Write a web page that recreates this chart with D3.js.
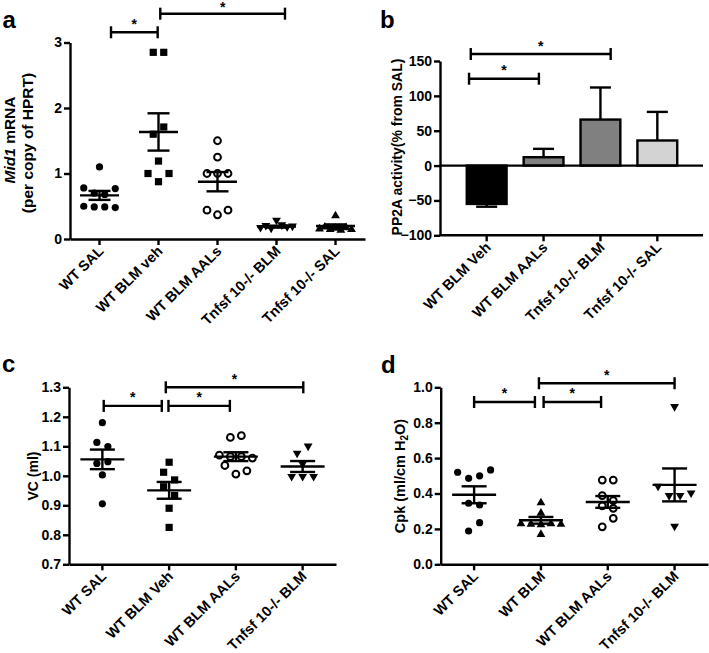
<!DOCTYPE html>
<html><head><meta charset="utf-8">
<script src="https://cdn.jsdelivr.net/npm/d3@7"></script>
<style>
body{margin:0;background:#fff}
svg{display:block}
text{font-family:"Liberation Sans",Arial,sans-serif;font-weight:bold;fill:#000}
</style>
</head><body>
<svg id="chart" width="709" height="653"></svg>
<script>
// ---------- Panel a : Mid1 mRNA ----------
const catsA = ["WT SAL", "WT BLM veh", "WT BLM AALs", "Tnfsf 10-/- BLM", "Tnfsf 10-/- SAL"];
const aWtSal   = [1.10, 0.78, 0.70, 0.68, 0.77, 0.50, 0.49, 0.49, 0.48];
const aBlmVeh  = [2.85, 2.85, 1.60, 1.71, 1.19, 1.00, 0.875, 1.00];
const aAals    = [1.50, 1.25, 1.00, 1.00, 1.00, 0.44, 0.37, 0.44];
const aTnfBlm  = [0.16, 0.19, 0.15, 0.27, 0.20, 0.17, 0.18];
const aTnfSal  = [0.37, 0.17, 0.20, 0.16, 0.18, 0.15, 0.19, 0.16];
const aTicks   = [0, 1, 2, 3];
const aSig     = [[0.195, 0.986, 3.156], [1.03, 3.144, 3.44]];

// ---------- Panel b : PP2A activity ----------
const catsB = ["WT BLM Veh", "WT BLM AALs", "Tnfsf 10-/- BLM", "Tnfsf 10-/- SAL"];
const bMean = [-55, 12, 66, 36];
const bSem  = [4, 12, 46, 41];
const bFill = ["#000000", "#808080", "#808080", "#d3d3d3"];
const bTicks = [-100, -50, 0, 50, 100, 150];
const bSig  = [[-0.31, 0.918, 124.6], [-0.28, 2.18, 160]];

// ---------- Panel c : VC ----------
const catsC = ["WT SAL", "WT BLM Veh", "WT BLM AALs", "Tnfsf 10-/- BLM"];
const cWtSal  = [1.18, 1.113, 1.099, 1.042, 1.048, 1.003, 0.905];
const cBlmVeh = [1.046, 1.012, 0.986, 0.963, 0.933, 0.89, 0.825];
const cAals   = [1.13, 1.136, 1.07, 1.065, 1.065, 1.06, 1.035, 1.006, 1.017];
const cTnfBlm = [1.073, 1.097, 1.037, 0.994, 0.994, 0.994];
const cTicks  = [0.7, 0.8, 0.9, 1.0, 1.1, 1.2, 1.3];
const cSig    = [[0.02, 0.89, 1.237], [0.99, 1.91, 1.237], [0.95, 3.01, 1.3]];

// ---------- Panel d : Cpk ----------
const catsD = ["WT SAL", "WT BLM", "WT BLM AALs", "Tnfsf 10-/- BLM"];
const dWtSal  = [0.52, 0.486, 0.50, 0.533, 0.345, 0.335, 0.188, 0.235];
const dBlm    = [0.354, 0.295, 0.235, 0.232, 0.23, 0.235, 0.232, 0.175];
const dAals   = [0.476, 0.476, 0.388, 0.36, 0.33, 0.316, 0.212, 0.26];
const dTnfBlm = [0.885, 0.435, 0.382, 0.383, 0.397, 0.209];
const dTicks  = [0.0, 0.2, 0.4, 0.6, 0.8, 1.0];
const dSig    = [[0.0, 0.91, 0.917], [1.04, 1.9, 0.917], [0.97, 3.0, 1.023]];

const svg = d3.select("#chart");
const LW = 2.4;

function styleAxis(g){
  g.selectAll("path.domain").attr("stroke","#000").attr("stroke-width",LW);
  g.selectAll(".tick line").attr("stroke","#000").attr("stroke-width",LW);
  g.selectAll(".tick text").attr("font-size","14px").attr("font-weight","bold")
    .attr("font-family","Liberation Sans, Arial, sans-serif").attr("fill","#000");
}

function swarm(vals, y, sp, maxW, thr){
  const idx = vals.map((v,i)=>i).sort((a,b)=>vals[b]-vals[a]);
  const out = new Array(vals.length);
  let i = 0;
  while(i < idx.length){
    const y0 = y(vals[idx[i]]);
    const row = [idx[i]]; let j = i+1;
    while(j < idx.length && Math.abs(y(vals[idx[j]]) - y0) < thr){ row.push(idx[j]); j++; }
    row.sort((a,b)=>a-b);
    const n = row.length;
    const s = n > 1 ? Math.min(sp, maxW/(n-1)) : 0;
    row.forEach((k,m)=>{ out[k] = (m-(n-1)/2)*s; });
    i = j;
  }
  return out;
}

function marker(g, type, x, y){
  if(type === "circle") g.append("circle").attr("cx",x).attr("cy",y).attr("r",3.6).attr("fill","#000");
  else if(type === "open") g.append("circle").attr("cx",x).attr("cy",y).attr("r",3.4).attr("fill","none").attr("stroke","#000").attr("stroke-width",2);
  else if(type === "square") g.append("rect").attr("x",x-3.6).attr("y",y-3.6).attr("width",7.2).attr("height",7.2).attr("fill","#000");
  else if(type === "down") g.append("path").attr("d",`M${x-4.4},${y-3.6}L${x+4.4},${y-3.6}L${x},${y+4}Z`).attr("fill","#000");
  else if(type === "up") g.append("path").attr("d",`M${x-4.4},${y+3.6}L${x+4.4},${y+3.6}L${x},${y-4}Z`).attr("fill","#000");
}

function xLabels(g, x, cats, axisY){
  cats.forEach(c=>{
    g.append("text").attr("text-anchor","end").attr("font-size","14.5px")
      .attr("transform",`translate(${x(c)+x.bandwidth()/2+5},${axisY+13}) rotate(-45)`)
      .text(c);
  });
}

function brackets(g, sig, x, cats, y){
  const c0 = x(cats[0]) + x.bandwidth()/2, st = x.step();
  sig.forEach(([a,b,v])=>{
    const x1 = c0 + a*st, x2 = c0 + b*st, yy = y(v);
    g.append("line").attr("x1",x1).attr("x2",x2).attr("y1",yy).attr("y2",yy).attr("stroke","#000").attr("stroke-width",LW);
    [x1,x2].forEach(xx=>g.append("line").attr("x1",xx).attr("x2",xx).attr("y1",yy-6).attr("y2",yy+6).attr("stroke","#000").attr("stroke-width",LW));
    g.append("text").attr("x",(x1+x2)/2).attr("y",Math.max(yy-3.5, 11.5)).attr("text-anchor","middle").attr("font-size","14px").text("*");
  });
}

function scatterPanel(opt){
  const {cats, groups, types, x, y, ticks, fmt, sig, sp, maxW, meanHW, capHW} = opt;
  const g = svg.append("g");
  const axisY = y.range()[0];
  const ga = g.append("g").attr("transform",`translate(${x.range()[0]},0)`)
    .call(d3.axisLeft(y).tickValues(ticks).tickFormat(fmt).tickSize(6).tickSizeOuter(0).tickPadding(2));
  styleAxis(ga);
  const gx = g.append("g").attr("transform",`translate(0,${axisY})`)
    .call(d3.axisBottom(x).tickSize(6).tickSizeOuter(0).tickFormat(""));
  styleAxis(gx);
  xLabels(g, x, cats, axisY);
  groups.forEach((vals,gi)=>{
    const cx = x(cats[gi]) + x.bandwidth()/2;
    const offs = swarm(vals, y, sp, maxW, 9.8);
    vals.forEach((v,i)=>marker(g, types[gi], cx+offs[i], y(v)));
    const m = d3.mean(vals), sem = d3.deviation(vals)/Math.sqrt(vals.length);
    const L = (x1,x2,y1,y2)=>g.append("line").attr("x1",x1).attr("x2",x2).attr("y1",y1).attr("y2",y2).attr("stroke","#000").attr("stroke-width",LW);
    L(cx-meanHW, cx+meanHW, y(m), y(m));
    L(cx, cx, y(m-sem), y(m+sem));
    L(cx-capHW, cx+capHW, y(m-sem), y(m-sem));
    L(cx-capHW, cx+capHW, y(m+sem), y(m+sem));
  });
  brackets(g, sig, x, cats, y);
  return g;
}

// ---- Panel a
const xA = d3.scaleBand().domain(catsA).range([70,365]);
const yA = d3.scaleLinear().domain([0,3]).range([239,42.5]);
scatterPanel({cats:catsA, groups:[aWtSal,aBlmVeh,aAals,aTnfBlm,aTnfSal], types:["circle","square","open","down","up"],
  x:xA, y:yA, ticks:aTicks, fmt:d3.format("d"), sig:aSig, sp:10.5, maxW:32, meanHW:19.5, capHW:11});
svg.append("text").attr("x",2.5).attr("y",28).attr("font-size","24px").text("a");
const tA = svg.append("text").attr("text-anchor","middle").attr("font-size","15.5px").attr("transform","translate(15,140) rotate(-90)");
tA.append("tspan").attr("font-style","italic").text("Mid1");
tA.append("tspan").text(" mRNA");
svg.append("text").attr("text-anchor","middle").attr("font-size","15.5px").attr("transform","translate(33,143) rotate(-90)").text("(per copy of HPRT)");

// ---- Panel b
const xB = d3.scaleBand().domain(catsB).range([441,703]).paddingInner(0.3).paddingOuter(0.453);
const yB = d3.scaleLinear().domain([-100,150]).range([235.3,61]);
{
  const g = svg.append("g");
  const ga = g.append("g").attr("transform","translate(440,0)")
    .call(d3.axisLeft(yB).tickValues(bTicks).tickSize(6).tickSizeOuter(0).tickPadding(2));
  styleAxis(ga);
  const gx = g.append("g").attr("transform",`translate(0,${yB(-100)})`)
    .call(d3.axisBottom(xB).tickSize(6).tickSizeOuter(0).tickFormat(""));
  styleAxis(gx);
  gx.select("path.domain").attr("d",`M440,0H703`);
  xLabels(g, xB, catsB, yB(-100));
  catsB.forEach((c,i)=>{
    const x0 = xB(c), w = xB.bandwidth(), cx = x0 + w/2;
    const v = bMean[i], e = v + Math.sign(v)*bSem[i];
    g.append("line").attr("x1",cx).attr("x2",cx).attr("y1",yB(v)).attr("y2",yB(e)).attr("stroke","#000").attr("stroke-width",LW);
    g.append("line").attr("x1",cx-10.5).attr("x2",cx+10.5).attr("y1",yB(e)).attr("y2",yB(e)).attr("stroke","#000").attr("stroke-width",LW);
    g.append("rect").attr("x",x0).attr("width",w).attr("y",yB(Math.max(0,v))).attr("height",Math.abs(yB(v)-yB(0)))
      .attr("fill",bFill[i]).attr("stroke","#000").attr("stroke-width",LW);
  });
  g.append("line").attr("x1",440).attr("x2",703).attr("y1",yB(0)).attr("y2",yB(0)).attr("stroke","#000").attr("stroke-width",LW);
  brackets(g, bSig, xB, catsB, yB);
}
svg.append("text").attr("x",380).attr("y",28).attr("font-size","24px").text("b");
svg.append("text").attr("text-anchor","middle").attr("font-size","14px").attr("transform","translate(402,147) rotate(-90)").text("PP2A activity(% from SAL)");

// ---- Panel c
const xC = d3.scaleBand().domain(catsC).range([69,336]);
const yC = d3.scaleLinear().domain([0.7,1.3]).range([564.3,387.3]);
scatterPanel({cats:catsC, groups:[cWtSal,cBlmVeh,cAals,cTnfBlm], types:["circle","square","open","down"],
  x:xC, y:yC, ticks:cTicks, fmt:d3.format(".1f"), sig:cSig, sp:11, maxW:36, meanHW:22, capHW:12.5});
svg.append("text").attr("x",2).attr("y",372).attr("font-size","24px").text("c");
svg.append("text").attr("text-anchor","middle").attr("font-size","14px").attr("transform","translate(38,476) rotate(-90)").text("VC (ml)");

// ---- Panel d
const xD = d3.scaleBand().domain(catsD).range([440.7,708]);
const yD = d3.scaleLinear().domain([0,1]).range([564.3,387.3]);
scatterPanel({cats:catsD, groups:[dWtSal,dBlm,dAals,dTnfBlm], types:["circle","up","open","down"],
  x:xD, y:yD, ticks:dTicks, fmt:d3.format(".1f"), sig:dSig, sp:11, maxW:40, meanHW:22, capHW:12.5});
svg.append("text").attr("x",381).attr("y",373).attr("font-size","24px").text("d");
const tD = svg.append("text").attr("text-anchor","middle").attr("font-size","14.5px").attr("transform","translate(405,476) rotate(-90)");
tD.append("tspan").text("Cpk (ml/cm H");
tD.append("tspan").attr("font-size","10px").attr("dy","3").text("2");
tD.append("tspan").attr("dy","-3").text("O)");
</script>
</body></html>
